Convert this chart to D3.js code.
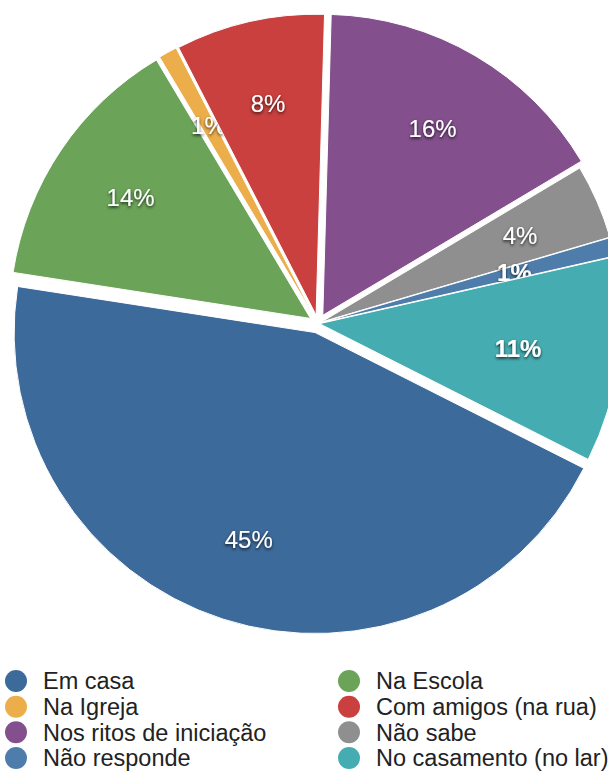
<!DOCTYPE html>
<html>
<head>
<meta charset="utf-8">
<script src="https://cdn.jsdelivr.net/npm/d3@7"></script>
<style>
  html, body { margin: 0; padding: 0; background: #fff; overflow: hidden; }
  svg { display: block; font-family: "Liberation Sans", Arial, Helvetica, sans-serif; }
</style>
</head>
<body>
<script>
// slices, clockwise from the lower right
var categories = ['Em casa', 'Na Escola', 'Na Igreja', 'Com amigos (na rua)',
  'Nos ritos de iniciação', 'Não sabe', 'Não responde', 'No casamento (no lar)'];
var values = [45, 14, 1, 8, 16, 4, 1, 11];
var labels = ['45%', '14%', '1%', '8%', '16%', '4%', '1%', '11%'];

var colors = ['#3c6a9a', '#6ba459', '#ecae4b', '#c9403e', '#834f8c', '#8e8f8e', '#4f7dab', '#45adb1'];
var explode = [9.5, 9, 9, 8.5, 9.5, 3.5, 3, 1.5];
var bold = ['Não responde', 'No casamento (no lar)'];

var width = 608, height = 774;
var cx = 318, cy = 323.5, radius = 301;
var startAngle = 116.8 * Math.PI / 180;

var svg = d3.select('body').append('svg')
  .attr('width', width)
  .attr('height', height);

var defs = svg.append('defs');
var shadow = defs.append('filter')
  .attr('id', 'shadow')
  .attr('x', '-30%').attr('y', '-30%')
  .attr('width', '160%').attr('height', '160%');
shadow.append('feDropShadow')
  .attr('dx', 0).attr('dy', 1.5)
  .attr('stdDeviation', 1.5)
  .attr('flood-color', '#000')
  .attr('flood-opacity', 0.8);

var pie = d3.pie()
  .sort(null)
  .value(function (d) { return d; })
  .startAngle(startAngle)
  .endAngle(startAngle + 2 * Math.PI);

var arc = d3.arc().innerRadius(0).outerRadius(radius);
var arcs = pie(values);

function offset (d, i, r) {
  var a = (d.startAngle + d.endAngle) / 2;
  return [Math.sin(a) * r, -Math.cos(a) * r];
}

var g = svg.append('g').attr('transform', 'translate(' + cx + ',' + cy + ')');

var slice = g.selectAll('g.slice')
  .data(arcs)
  .enter().append('g')
  .attr('class', 'slice')
  .attr('transform', function (d, i) {
    var o = offset(d, i, explode[i]);
    return 'translate(' + o[0] + ',' + o[1] + ')';
  });

slice.append('path')
  .attr('d', arc)
  .style('fill', function (d, i) { return colors[i]; })
  .style('stroke', '#fff')
  .style('stroke-width', 1);

slice.append('text')
  .attr('transform', function (d, i) {
    var r = bold.indexOf(categories[i]) !== -1 ? 200 : 217;
    var o = offset(d, i, r);
    return 'translate(' + o[0] + ',' + o[1] + ')';
  })
  .attr('text-anchor', 'middle')
  .attr('dy', '0.36em')
  .attr('filter', 'url(#shadow)')
  .style('font-size', '24px')
  .style('font-weight', function (d, i) { return bold.indexOf(categories[i]) !== -1 ? 'bold' : 'normal'; })
  .style('fill', '#fff')
  .text(function (d, i) { return labels[i]; });

// legend, two columns, row-major
var legend = svg.append('g').attr('class', 'legend');
var colX = [16, 349];
var rowY = d3.scalePoint().domain(d3.range(4)).range([681, 758]);

var item = legend.selectAll('g.item')
  .data(categories)
  .enter().append('g')
  .attr('class', 'item')
  .attr('transform', function (d, i) {
    return 'translate(' + colX[i % 2] + ',' + rowY(Math.floor(i / 2)) + ')';
  });

item.append('circle')
  .attr('r', 11)
  .style('fill', function (d, i) { return colors[i]; });

item.append('text')
  .attr('x', 27)
  .attr('dy', '0.36em')
  .style('font-size', '23.5px')
  .style('fill', '#222')
  .text(function (d) { return d; });
</script>
</body>
</html>
